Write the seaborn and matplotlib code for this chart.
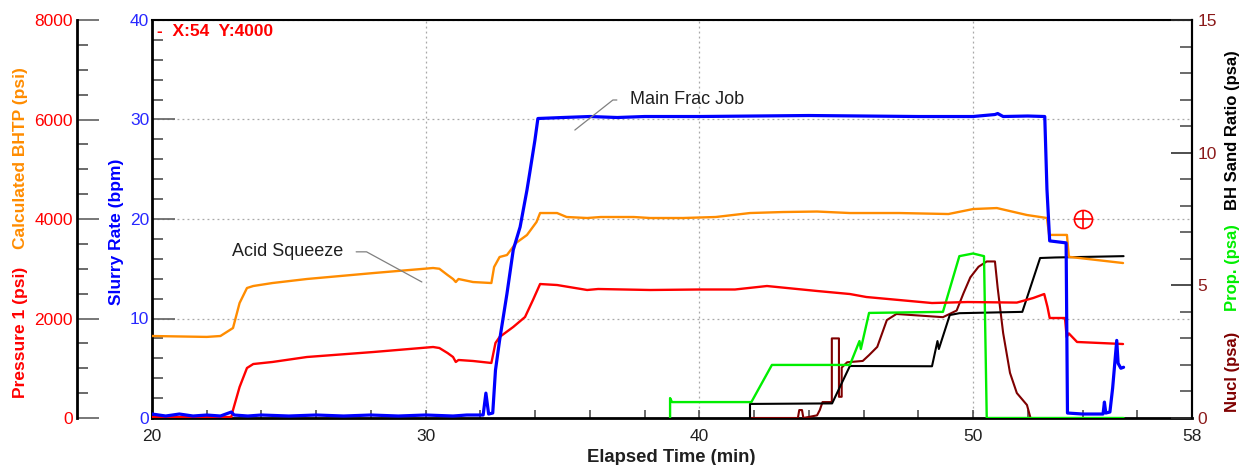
import matplotlib
matplotlib.use("Agg")
import numpy as np
import pandas as pd
import matplotlib.pyplot as plt
import seaborn as sns
from matplotlib.ticker import MultipleLocator

# ---------------- data ----------------
slurry_t = [20.0, 20.5, 21.0, 21.5, 22.0, 22.5, 22.9, 23.0, 23.5, 24.0, 25.0, 26.0, 27.0,
            28.0, 29.0, 30.0, 31.0, 31.5, 32.1, 32.2, 32.3, 32.45, 32.55, 32.7, 32.97,
            33.2, 33.45, 33.7, 33.8, 33.99, 34.1, 35.0, 36.0, 37.0, 38.0, 40.0, 42.0,
            44.0, 46.0, 48.0, 50.0, 50.8, 50.9, 51.1, 52.0, 52.62, 52.7, 52.8, 53.4,
            53.45, 54.0, 54.75, 54.8, 54.85, 55.0, 55.1, 55.25, 55.3, 55.4, 55.5]
slurry_v = [0.4, 0.2, 0.4, 0.2, 0.3, 0.2, 0.6, 0.3, 0.2, 0.3, 0.2, 0.3, 0.2,
            0.3, 0.2, 0.3, 0.2, 0.3, 0.3, 2.5, 0.4, 0.5, 4.8, 7.8, 12.5,
            16.9, 19.2, 22.9, 24.6, 27.9, 30.1, 30.2, 30.3, 30.2, 30.3, 30.3, 30.35,
            30.4, 30.35, 30.3, 30.3, 30.5, 30.6, 30.3, 30.35, 30.3, 23.0, 17.8, 17.6,
            0.5, 0.4, 0.4, 1.6, 0.5, 0.6, 3.0, 7.8, 5.5, 5.0, 5.1]

press_t = [20.0, 22.9, 22.96, 23.2, 23.47, 23.7, 24.4, 25.66, 28.1, 30.27, 30.5, 30.8,
           31.0, 31.1, 31.2, 31.73, 32.4, 32.55, 32.7, 33.2, 33.63, 33.92, 34.18, 34.8,
           35.9, 36.3, 38.2, 40.0, 41.3, 42.47, 44.3, 45.5, 46.1, 48.5, 49.8, 51.6,
           52.2, 52.6, 52.72, 52.8, 53.36, 53.42, 53.5, 53.8, 55.48]
press_v = [20, 20, 160, 623, 1005, 1085, 1126, 1226, 1327, 1427, 1407, 1306,
           1226, 1126, 1166, 1146, 1106, 1508, 1628, 1830, 2030, 2372, 2693, 2673,
           2573, 2593, 2573, 2583, 2583, 2653, 2553, 2492, 2432, 2311, 2331, 2320,
           2412, 2492, 2231, 2010, 2010, 1628, 1700, 1528, 1487]

bhtp_t = [20.0, 22.0, 22.5, 22.96, 23.2, 23.47, 23.7, 24.4, 25.66, 28.1, 30.27, 30.5,
          30.8, 31.0, 31.1, 31.2, 31.73, 32.4, 32.5, 32.7, 32.97, 33.3, 33.7, 34.05,
          34.18, 34.8, 35.15, 35.9, 36.4, 37.6, 38.2, 39.4, 40.6, 41.85, 43.05, 44.3,
          45.5, 47.3, 49.1, 50.0, 50.87, 51.97, 52.7, 52.78, 53.43, 53.5, 55.48]
bhtp_v = [1648, 1630, 1648, 1809, 2311, 2613, 2653, 2713, 2794, 2914, 3015, 3000,
          2874, 2794, 2733, 2794, 2733, 2713, 3035, 3236, 3276, 3518, 3678, 3940,
          4120, 4120, 4040, 4020, 4040, 4040, 4020, 4020, 4040, 4120, 4140, 4150,
          4120, 4120, 4100, 4200, 4220, 4080, 4020, 3680, 3680, 3240, 3115]

prop_t = [38.93, 38.93, 39.0, 41.9, 42.65, 45.5, 45.85, 45.9, 46.2, 48.9, 49.5, 50.0,
          50.4, 50.5, 55.5]
prop_v = [0.0, 0.75, 0.6, 0.6, 2.0, 2.0, 2.9, 2.6, 3.96, 4.0, 6.1, 6.2,
          6.1, 0.0, 0.0]

sand_t = [41.85, 41.85, 44.85, 45.5, 48.5, 48.7, 48.75, 49.15, 49.5, 51.8, 52.45, 53.0, 55.5]
sand_v = [0.0, 0.53, 0.55, 1.96, 1.95, 2.9, 2.6, 3.88, 3.95, 4.0, 6.03, 6.05, 6.1]

nucl_t = [41.9, 43.6, 43.65, 43.75, 43.8, 44.3, 44.4, 44.5, 44.84, 44.84, 45.1, 45.1,
          45.2, 45.2, 45.4, 45.97, 46.2, 46.5, 46.85, 47.2, 48.9, 49.4, 49.65, 49.9,
          50.2, 50.5, 50.8, 50.9, 51.1, 51.35, 51.6, 51.97, 52.1]
nucl_v = [0.0, 0.0, 0.3, 0.3, 0.0, 0.1, 0.3, 0.6, 0.6, 3.0, 3.0, 0.8,
          0.8, 1.9, 2.1, 2.15, 2.37, 2.68, 3.69, 3.92, 3.8, 4.05, 4.7, 5.3,
          5.7, 5.9, 5.9, 4.9, 3.2, 1.7, 0.94, 0.49, 0.0]

x_ticks = [20, 30, 40, 50, 58]
slurry_ticks = [0, 10, 20, 30, 40]
press_ticks = [0, 2000, 4000, 6000, 8000]
ratio_ticks = [0, 5, 10, 15]

cursor_x, cursor_y = 54, 4000

# ---------------- style ----------------
sns.set_theme(style="white")
plt.rcParams["font.family"] = ["Liberation Sans", "DejaVu Sans"]

BLUE = "#0000FF"
RED = "#FF0000"
ORANGE = "#FF8C00"
GREEN = "#00EE00"
DARKRED = "#7F0000"
TICKFS = 12.5

fig = plt.figure(figsize=(12.48, 4.65), dpi=100)
fig.patch.set_facecolor("white")
ax = fig.add_axes([152 / 1248, 47 / 465, 1040 / 1248, 398 / 465])
ax_r = ax.twinx()
ax_p = ax.twinx()
ax_s = ax.twinx()
ax.set_zorder(1)
ax_r.set_zorder(2)
ax_p.set_zorder(3)
ax_s.set_zorder(4)
ax.patch.set_facecolor("white")
for a in (ax_r, ax_p, ax_s):
    a.patch.set_visible(False)

# right-axis series
sns.lineplot(x=nucl_t, y=nucl_v, ax=ax_r, color=DARKRED, lw=1.5, estimator=None, sort=False)
sns.lineplot(x=sand_t, y=sand_v, ax=ax_r, color="black", lw=1.5, estimator=None, sort=False)
sns.lineplot(x=prop_t, y=prop_v, ax=ax_r, color=GREEN, lw=1.7, estimator=None, sort=False)
# pressures
sns.lineplot(x=bhtp_t, y=bhtp_v, ax=ax_p, color=ORANGE, lw=1.7, estimator=None, sort=False)
sns.lineplot(x=press_t, y=press_v, ax=ax_p, color=RED, lw=1.7, estimator=None, sort=False)
# slurry rate on top
sns.lineplot(x=slurry_t, y=slurry_v, ax=ax_s, color=BLUE, lw=2.3, estimator=None, sort=False)

# cursor marker
ax_p.plot([cursor_x], [cursor_y], marker="o", ms=13, mfc="none", mec=RED, mew=1.2, ls="none")
ax_p.plot([cursor_x], [cursor_y], marker="+", ms=13, mec=RED, mew=1.2, ls="none")

# limits
ax.set_xlim(20, 58)
ax.set_ylim(0, 40)
ax_s.set_ylim(0, 40)
ax_p.set_ylim(0, 8000)
ax_r.set_ylim(0, 15)
for a in (ax, ax_r, ax_p, ax_s):
    a.set_xlabel("")
    a.set_ylabel("")

# host axis (slurry scale, grid, x-axis)
ax.set_xticks(x_ticks)
ax.set_xticklabels([str(v) for v in x_ticks])
ax.xaxis.set_minor_locator(MultipleLocator(2))
ax.set_yticks(slurry_ticks)
ax.yaxis.set_minor_locator(MultipleLocator(2))
ax.tick_params(axis="x", which="both", direction="in", length=6, width=1.1, color="#404040",
               bottom=True, top=False, labelsize=TICKFS, labelcolor="#202020", pad=8)
ax.tick_params(axis="y", which="major", direction="in", length=16.5, width=1.2, color="#606060",
               left=True, right=False, labelsize=TICKFS, labelcolor="#2828FF", pad=2)
ax.tick_params(axis="y", which="minor", direction="in", length=8, width=1.2, color="#505050",
               left=True, right=False)
ax.grid(True, which="major", linestyle=(0, (1.5, 2.5)), color="#a8a8a8", lw=0.9)
for s in ax.spines.values():
    s.set_color("black")
    s.set_linewidth(1.5)
ax.spines["left"].set_linewidth(2.0)
ax.spines["bottom"].set_linewidth(2.0)

# top slurry axes: nothing visible except lines
ax_s.axis("off")

# pressure axis (offset to the left)
ax_p.yaxis.tick_left()
ax_p.yaxis.set_label_position("left")
for k in ("right", "top", "bottom"):
    ax_p.spines[k].set_visible(False)
ax_p.spines["left"].set_position(("axes", -75 / 1040))
ax_p.spines["left"].set_color("black")
ax_p.spines["left"].set_linewidth(2.0)
ax_p.set_yticks(press_ticks)
ax_p.yaxis.set_minor_locator(MultipleLocator(500))
ax_p.tick_params(axis="y", which="major", direction="in", length=16, width=1.2, color="#606060",
                 left=True, right=False, labelleft=True, labelright=False,
                 labelsize=TICKFS, labelcolor=RED, pad=3)
ax_p.tick_params(axis="y", which="minor", direction="in", length=8, width=1.2, color="#505050",
                 left=True, right=False)

# right axis
for k in ("left", "top", "bottom"):
    ax_r.spines[k].set_visible(False)
ax_r.spines["right"].set_color("black")
ax_r.spines["right"].set_linewidth(1.5)
ax_r.set_yticks(ratio_ticks)
ax_r.yaxis.set_minor_locator(MultipleLocator(1))
ax_r.tick_params(axis="y", which="major", direction="in", length=15, width=1.2, color="#303030",
                 right=True, left=False, labelright=True, labelleft=False,
                 labelsize=TICKFS, labelcolor="#8B1A1A", pad=4)
ax_r.tick_params(axis="y", which="minor", direction="in", length=8.5, width=1.2, color="#505050",
                 right=True, left=False)

# annotations
ax_s.annotate("Acid Squeeze", xy=(29.86, 13.67), xytext=(22.92, 16.7), ha="left", va="center",
              fontsize=13, color="#202020",
              arrowprops=dict(arrowstyle="-", color="#808080", lw=0.9, shrinkA=7, shrinkB=0,
                              relpos=(1, 0.5),
                              connectionstyle="angle,angleA=0,angleB=-28.6,rad=0"))
ax_s.annotate("Main Frac Job", xy=(35.45, 28.94), xytext=(37.46, 31.96), ha="left", va="center",
              fontsize=13, color="#202020",
              arrowprops=dict(arrowstyle="-", color="#808080", lw=0.9, shrinkA=7, shrinkB=0,
                              relpos=(0, 0.5),
                              connectionstyle="angle,angleA=0,angleB=38.3,rad=0"))

ax_s.text(0.005, 0.97, f"-  X:{cursor_x}  Y:{cursor_y}", transform=ax.transAxes, color=RED,
          fontsize=12.5, fontweight="bold", va="center", ha="left")

# axis titles
fig.text(21 / 1248, 1 - 332 / 465, "Pressure 1 (psi)", rotation=90, color=RED,
         fontsize=12.5, fontweight="bold", ha="center", va="center")
fig.text(21 / 1248, 1 - 158 / 465, "Calculated BHTP (psi)", rotation=90, color=ORANGE,
         fontsize=12.5, fontweight="bold", ha="center", va="center")
fig.text(117 / 1248, 1 - 232 / 465, "Slurry Rate (bpm)", rotation=90, color=BLUE,
         fontsize=12.5, fontweight="bold", ha="center", va="center")
fig.text(1232 / 1248, 1 - 130 / 465, "BH Sand Ratio (psa)", rotation=90, color="black",
         fontsize=12, fontweight="bold", ha="center", va="center")
fig.text(1232 / 1248, 1 - 268 / 465, "Prop. (psa)", rotation=90, color=GREEN,
         fontsize=12, fontweight="bold", ha="center", va="center")
fig.text(1232 / 1248, 1 - 372 / 465, "Nucl (psa)", rotation=90, color=DARKRED,
         fontsize=12, fontweight="bold", ha="center", va="center")
fig.text(671 / 1248, 1 - 457 / 465, "Elapsed Time (min)", color="#202020",
         fontsize=13.3, fontweight="bold", ha="center", va="center")

fig.savefig("out.png", dpi=100, facecolor="white")
